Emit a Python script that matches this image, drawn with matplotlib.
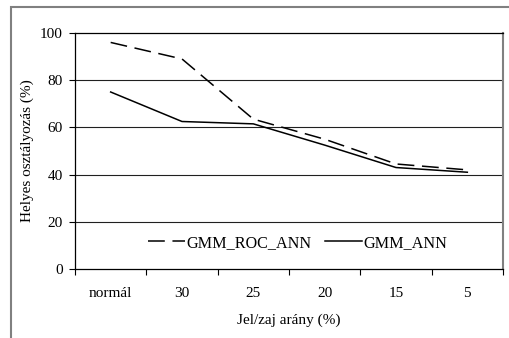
import matplotlib
matplotlib.use("Agg")
import matplotlib.pyplot as plt
from matplotlib.patches import Rectangle

categories = ["normál", "30", "25", "20", "15", "5"]
gmm_roc_ann = [96, 89, 63.5, 55, 44.5, 42]
gmm_ann = [75, 62.5, 61.5, 52.5, 43, 41]
yticks = [0, 20, 40, 60, 80, 100]

plt.rcParams['font.family'] = ['Liberation Serif', 'DejaVu Serif']

fig = plt.figure(figsize=(5.09, 3.38), dpi=100)
ax = fig.add_axes([75/509, 69/338, 428/509, 236/338])

# outer frame
fig.patches.append(Rectangle((11/509, -0.1), 1.2, 1 - 7/338 + 0.1, transform=fig.transFigure,
                             fill=False, edgecolor='#808080', lw=1.5, zorder=0))

x = list(range(len(categories)))
ax.plot(x, gmm_roc_ann, color='black', lw=1.1, dashes=(11, 5), label='GMM_ROC_ANN', zorder=3)
ax.plot(x, gmm_ann, color='black', lw=1.1, label='GMM_ANN', zorder=3)

ax.set_xlim(-0.5, len(categories) - 0.5)
ax.set_ylim(0, 100)
ax.set_yticks(yticks)
ax.set_yticklabels([str(v) for v in yticks], fontsize=11)
for v in yticks[1:-1]:
    ax.axhline(v, color='#202020', lw=0.8, zorder=1)

ax.set_xticks(x)
ax.set_xticklabels(categories, fontsize=11)
ax.tick_params(axis='x', which='major', length=0, pad=13)
ax.set_xticks([i + 0.5 for i in range(-1, len(categories))], minor=True)
ax.tick_params(axis='x', which='minor', length=4, direction='out', width=0.8)
ax.tick_params(axis='y', length=4, direction='out', width=0.8, pad=5)

for s in ['left', 'bottom', 'top']:
    ax.spines[s].set_color('black')
    ax.spines[s].set_linewidth(0.9)
ax.spines['right'].set_color('#808080')
ax.spines['right'].set_linewidth(1.5)

ax.set_ylabel('Helyes osztályozás (%)', fontsize=11, labelpad=4)
ax.set_xlabel('Jel/zaj arány (%)', fontsize=11, labelpad=10)

ax.legend(loc='center', bbox_to_anchor=(0.52, 0.11), ncol=2, frameon=False, fontsize=11.6,
          handlelength=2.3, handletextpad=0.1, columnspacing=0.8)

fig.savefig('out.png', dpi=100)
